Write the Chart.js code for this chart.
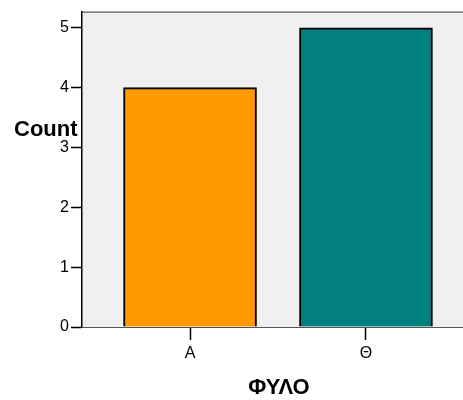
<!DOCTYPE html>
<html><head><meta charset="utf-8">
<script src="https://cdn.jsdelivr.net/npm/chart.js@4/dist/chart.umd.min.js"></script>
<style>html,body{margin:0;padding:0;overflow:hidden;background:#fff}#wrap{width:480px;height:400px}</style>
</head><body><div id="wrap"><canvas id="c" width="480" height="400"></canvas></div>
<script>
const categories = ['Α', 'Θ'];
const counts = [4, 5];
const yTicks = [0, 1, 2, 3, 4, 5];
const xTitle = 'ΦΥΛΟ';
const yTitle = 'Count';
const barColors = ['#FF9900', '#008080'];

const bgPlugin = {
  id: 'bg',
  beforeDraw(chart) {
    const {ctx, chartArea: a} = chart;
    ctx.save();
    ctx.fillStyle = '#F0F0F0';
    ctx.fillRect(a.left, a.top, a.right - a.left, a.bottom - a.top);
    ctx.strokeStyle = '#333';
    ctx.lineWidth = 1;
    ctx.beginPath();
    ctx.moveTo(a.left, a.top + 0.5);
    ctx.lineTo(a.right, a.top + 0.5);
    ctx.stroke();
    ctx.restore();
  },
  afterDraw(chart) {
    const {ctx} = chart;
    ctx.save();
    ctx.fillStyle = '#000';
    ctx.font = 'bold 22px "Liberation Sans", Arial, sans-serif';
    ctx.textAlign = 'center';
    ctx.textBaseline = 'middle';
    ctx.fillText(xTitle, 279, 388);
    ctx.textAlign = 'left';
    ctx.fillText(yTitle, 14, 130);
    ctx.restore();
  }
};

new Chart(document.getElementById('c'), {
  type: 'bar',
  data: {
    datasets: [{
      data: categories.map((c, i) => ({x: i, y: counts[i]})),
      backgroundColor: barColors,
      borderColor: '#000',
      borderWidth: 2,
      barThickness: 133
    }]
  },
  options: {
    responsive: false,
    animation: false,
    layout: {padding: {left: 0, top: 10, right: 6, bottom: 0}},
    plugins: {legend: {display: false}, tooltip: {enabled: false}},
    scales: {
      x: {
        type: 'linear',
        offset: false,
        bounds: 'ticks',
        min: -0.614,
        max: 1.614,
        afterBuildTicks: s => { s.ticks = categories.map((c, i) => ({value: i})); },
        afterFit: s => { s.height = 73; },
        ticks: {
          callback: v => categories[v],
          color: '#000',
          font: {size: 16, family: '"Liberation Sans", Arial, sans-serif'},
          padding: 4,
          maxRotation: 0
        },
        grid: {offset: false, drawOnChartArea: false, tickLength: 13, color: '#000', tickWidth: 1.5},
        border: {display: true, color: '#555', width: 1}
      },
      y: {
        min: 0,
        max: 5.27,
        afterBuildTicks: s => { s.ticks = yTicks.map(v => ({value: v})); },
        afterFit: s => { s.width = 82; },
        ticks: {
          color: '#000',
          font: {size: 16, family: '"Liberation Sans", Arial, sans-serif'},
          padding: 2
        },
        grid: {drawOnChartArea: false, tickLength: 11, color: '#000', tickWidth: 1.5},
        border: {display: true, color: '#000', width: 1.5}
      }
    }
  },
  plugins: [bgPlugin]
});
</script>
</body></html>
